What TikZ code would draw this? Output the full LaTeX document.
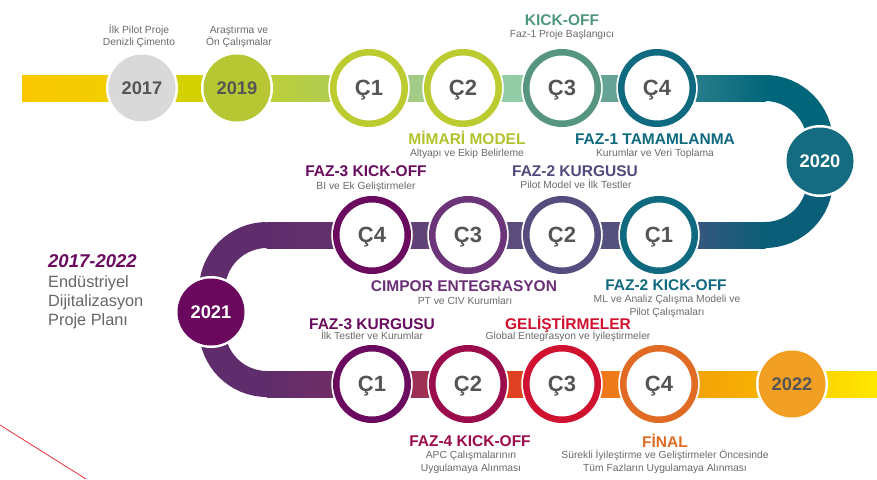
\documentclass[tikz,border=0pt]{standalone}
\usepackage{fontspec}
\setmainfont{Liberation Sans}
\usetikzlibrary{calc}
\definecolor{dgray}{HTML}{555555}
\definecolor{sgray}{HTML}{6B6B6B}
\definecolor{lgray}{HTML}{666666}
\definecolor{cLime}{HTML}{BCCB2F}
\definecolor{cSea}{HTML}{56957E}
\definecolor{cTeal}{HTML}{0F6A80}
\definecolor{cSlate}{HTML}{564C7E}
\definecolor{cPurp}{HTML}{6C3479}
\definecolor{cPlum}{HTML}{6A0B60}
\definecolor{cBerry}{HTML}{9B0C4C}
\definecolor{cRed}{HTML}{D0112F}
\definecolor{cOrange}{HTML}{E06B24}
\definecolor{f2017}{HTML}{D9D9D9}
\definecolor{f2019}{HTML}{B7C633}
\definecolor{f2020}{HTML}{146C80}
\definecolor{f2021}{HTML}{6A085E}
\definecolor{f2022}{HTML}{F2A024}
\definecolor{tKickC}{HTML}{4E977E}
\definecolor{tMimC}{HTML}{B3C22C}
\definecolor{tFaz2KC}{HTML}{53497D}
\definecolor{tCimC}{HTML}{6A2F76}
\definecolor{tGelC}{HTML}{D0102E}
\definecolor{tFaz4C}{HTML}{9B0A4A}
\definecolor{redline}{HTML}{E8343C}
% band colours
\definecolor{b01}{HTML}{FAC700}
\definecolor{b02}{HTML}{EED000}
\definecolor{b03}{HTML}{DCD200}
\definecolor{b04}{HTML}{CDD000}
\definecolor{b05}{HTML}{C2D22A}
\definecolor{b06}{HTML}{A9CA62}
\definecolor{b07}{HTML}{A6CB78}
\definecolor{b08}{HTML}{9DCE95}
\definecolor{b09}{HTML}{98D0A8}
\definecolor{b10}{HTML}{8DC9A6}
\definecolor{b11}{HTML}{6FA99A}
\definecolor{b12}{HTML}{5A9C8F}
\definecolor{b13}{HTML}{3A8A92}
\definecolor{b14}{HTML}{02667A}
\definecolor{m01}{HTML}{0A5E77}
\definecolor{m02}{HTML}{4E5480}
\definecolor{m03}{HTML}{5A4F7D}
\definecolor{m04}{HTML}{5C4A7B}
\definecolor{m05}{HTML}{613E74}
\definecolor{m06}{HTML}{5F4878}
\definecolor{m07}{HTML}{5F2D6B}
\definecolor{m08}{HTML}{64346F}
\definecolor{u01}{HTML}{7A2C62}
\definecolor{u02}{HTML}{8E2C5A}
\definecolor{u03}{HTML}{B0334C}
\definecolor{u04}{HTML}{D83C28}
\definecolor{u05}{HTML}{E5461A}
\definecolor{u06}{HTML}{EE6A1A}
\definecolor{u07}{HTML}{F08818}
\definecolor{u08}{HTML}{F39A0A}
\definecolor{u09}{HTML}{F7B800}
\definecolor{u10}{HTML}{FAC800}
\definecolor{u11}{HTML}{FFE800}
\begin{document}
\begin{tikzpicture}[x=1pt,y=-1pt,
  ring/.style={circle, minimum size=71.5pt, inner sep=0pt, fill=white, line width=6.5pt,
    text=dgray, text depth=0pt, font=\fontsize{22}{22}\selectfont\bfseries,
    preaction={draw=white, line width=10pt}},
  yr/.style={circle, minimum size=67pt, inner sep=0pt, text depth=0pt,
    font=\fontsize{18.3}{18.3}\selectfont\bfseries, preaction={draw=white, line width=5pt}},
  ttl/.style={anchor=base, inner sep=0pt, font=\fontsize{15.5}{16}\selectfont\bfseries},
  sub/.style={anchor=base, inner sep=0pt, text=sgray, font=\fontsize{10.3}{12}\selectfont},
  lft/.style={anchor=base west, inner sep=0pt, text=lgray, font=\fontsize{16.3}{18}\selectfont},
  arcband/.style={line width=26pt}
]
\useasboundingbox (0,0) rectangle (877,479);
\fill[white] (0,0) rectangle (877,479);

% positions
\coordinate (pA) at (22,88);
\coordinate (p2017) at (142,88);
\coordinate (p2019) at (237,88);
\coordinate (pT1) at (369,88);
\coordinate (pT2) at (463,88);
\coordinate (pT3) at (562,88);
\coordinate (pT4) at (657,88);
\coordinate (pTR) at (765,88);
\coordinate (p2020) at (820,161);
\coordinate (pMR) at (765,235);
\coordinate (pM1) at (659,235);
\coordinate (pM2) at (562,235);
\coordinate (pM3) at (468,235);
\coordinate (pM4) at (372,235);
\coordinate (pML) at (267,235);
\coordinate (p2021) at (211,312);
\coordinate (pBL) at (267,384);
\coordinate (pB1) at (372,384);
\coordinate (pB2) at (468,384);
\coordinate (pB3) at (562,384);
\coordinate (pB4) at (659,384);
\coordinate (p2022) at (792,384);
\coordinate (pE) at (877,384);

% top band
\shade[left color=b01, right color=b02] ($(pA)+(0,-13)$) rectangle ($(p2017)+(0,13)$);
\shade[left color=b03, right color=b04] ($(p2017)+(0,-13)$) rectangle ($(p2019)+(0,13)$);
\shade[left color=b05, right color=b06] ($(p2019)+(0,-13)$) rectangle ($(pT1)+(0,13)$);
\shade[left color=b07, right color=b08] ($(pT1)+(0,-13)$) rectangle ($(pT2)+(0,13)$);
\shade[left color=b09, right color=b10] ($(pT2)+(0,-13)$) rectangle ($(pT3)+(0,13)$);
\shade[left color=b11, right color=b12] ($(pT3)+(0,-13)$) rectangle ($(pT4)+(0,13)$);
\shade[left color=b13, right color=b14] ($(pT4)+(0,-13)$) rectangle ($(pTR)+(0.5,13)$);
\draw[arcband, b14] (pTR) arc[start angle=-90, end angle=0, radius=55] -- (p2020);
% middle band
\draw[arcband, m01] (p2020) -- (820,180) arc[start angle=0, end angle=90, radius=55];
\shade[left color=m02, right color=m01] ($(pM1)+(0,-13)$) rectangle ($(pMR)+(0.5,13)$);
\shade[left color=m03, right color=m02] ($(pM2)+(0,-13)$) rectangle ($(pM1)+(0,13)$);
\shade[left color=m04, right color=m03] ($(pM3)+(0,-13)$) rectangle ($(pM2)+(0,13)$);
\shade[left color=m05, right color=m06] ($(pM4)+(0,-13)$) rectangle ($(pM3)+(0,13)$);
\shade[left color=m07, right color=m08] ($(pML)+(-0.5,-13)$) rectangle ($(pM4)+(0,13)$);
\draw[arcband, m07] (pML) arc[start angle=-90, end angle=-180, radius=55] -- (p2021);
% bottom band
\draw[arcband, m07] (p2021) -- (212,329) arc[start angle=180, end angle=90, radius=55];
\shade[left color=m07, right color=u01] ($(pBL)+(-0.5,-13)$) rectangle ($(pB1)+(0,13)$);
\shade[left color=u02, right color=u03] ($(pB1)+(0,-13)$) rectangle ($(pB2)+(0,13)$);
\shade[left color=u04, right color=u05] ($(pB2)+(0,-13)$) rectangle ($(pB3)+(0,13)$);
\shade[left color=u06, right color=u07] ($(pB3)+(0,-13)$) rectangle ($(pB4)+(0,13)$);
\shade[left color=u08, right color=u09] ($(pB4)+(0,-13)$) rectangle ($(p2022)+(0,13)$);
\shade[left color=u10, right color=u11] ($(p2022)+(0,-13)$) rectangle ($(pE)+(0,13)$);

% stray red line
\coordinate (rl1) at (0,425);
\coordinate (rl2) at (86,479);
\draw[redline, line width=0.8pt] (rl1) -- (rl2);

% circles
\node[yr, fill=f2017, text=dgray] (n2017) at (p2017) {2017};
\node[yr, fill=f2019, text=dgray] (n2019) at (p2019) {2019};
\node[ring, draw=cLime] (nT1) at (pT1) {Ç1};
\node[ring, draw=cLime] (nT2) at (pT2) {Ç2};
\node[ring, draw=cSea] (nT3) at (pT3) {Ç3};
\node[ring, draw=cTeal] (nT4) at (pT4) {Ç4};
\node[yr, fill=f2020, text=white] (n2020) at (p2020) {2020};
\node[ring, draw=cTeal] (nM1) at (pM1) {Ç1};
\node[ring, draw=cSlate] (nM2) at (pM2) {Ç2};
\node[ring, draw=cPurp] (nM3) at (pM3) {Ç3};
\node[ring, draw=cPlum] (nM4) at (pM4) {Ç4};
\node[yr, fill=f2021, text=white] (n2021) at (p2021) {2021};
\node[ring, draw=cPlum] (nB1) at (pB1) {Ç1};
\node[ring, draw=cBerry] (nB2) at (pB2) {Ç2};
\node[ring, draw=cRed] (nB3) at (pB3) {Ç3};
\node[ring, draw=cOrange] (nB4) at (pB4) {Ç4};
\node[yr, fill=f2022, text=dgray] (n2022) at (p2022) {2022};

% top labels
\node[sub] (s2017a) at (139,33) {İlk Pilot Proje};
\node[sub] (s2017b) at (139,45.5) {Denizli Çimento};
\node[sub] (s2019a) at (239,33) {Araştırma ve};
\node[sub] (s2019b) at (239,45.5) {Ön Çalışmalar};
\node[ttl, text=tKickC] (tKick) at (562,25) {KICK-OFF};
\node[sub] (sKick) at (562,37.5) {Faz-1 Proje Başlangıcı};
\node[ttl, text=tMimC] (tMim) at (467,144) {MİMARİ MODEL};
\node[sub] (sMim) at (467,156.5) {Altyapı ve Ekip Belirleme};
\node[ttl, text=cTeal] (tTam) at (655,144) {FAZ-1 TAMAMLANMA};
\node[sub] (sTam) at (655,156.5) {Kurumlar ve Veri Toplama};
% middle labels
\node[ttl, text=cPlum] (tF3K) at (366,176) {FAZ-3 KICK-OFF};
\node[sub] (sF3K) at (366,189) {BI ve Ek Geliştirmeler};
\node[ttl, text=tFaz2KC] (tF2G) at (575,176.5) {FAZ-2 KURGUSU};
\node[sub] (sF2G) at (576,188.5) {Pilot Model ve İlk Testler};
\node[ttl, text=tCimC] (tCim) at (464,291.5) {CIMPOR ENTEGRASYON};
\node[sub] (sCim) at (465,304) {PT ve CIV Kurumları};
\node[ttl, text=cTeal] (tF2K) at (666,290) {FAZ-2 KICK-OFF};
\node[sub] (sF2Ka) at (667,302.5) {ML ve Analiz Çalışma Modeli ve};
\node[sub] (sF2Kb) at (667,315.5) {Pilot Çalışmaları};
% bottom labels
\node[ttl, text=cPlum] (tF3G) at (372,329) {FAZ-3 KURGUSU};
\node[sub] (sF3G) at (372,339) {İlk Testler ve Kurumlar};
\node[ttl, text=tGelC] (tGel) at (568,329) {GELİŞTİRMELER};
\node[sub] (sGel) at (568,339) {Global Entegrasyon ve İyileştirmeler};
\node[ttl, text=tFaz4C] (tF4K) at (470,446.5) {FAZ-4 KICK-OFF};
\node[sub] (sF4Ka) at (471,458.5) {APC Çalışmalarının};
\node[sub] (sF4Kb) at (471,471) {Uygulamaya Alınması};
\node[ttl, text=cOrange] (tFin) at (665,447.5) {FİNAL};
\node[sub] (sFina) at (665,458.5) {Sürekli İyileştirme ve Geliştirmeler Öncesinde};
\node[sub] (sFinb) at (665,471) {Tüm Fazların Uygulamaya Alınması};
% left block
\node[lft, text=cPlum, font=\fontsize{18.5}{20}\selectfont\bfseries\itshape] (lY) at (48,267) {2017-2022};
\node[lft] (l1) at (48,287.3) {Endüstriyel};
\node[lft] (l2) at (48,306.5) {Dijitalizasyon};
\node[lft] (l3) at (48,325) {Proje Planı};
\end{tikzpicture}
\end{document}
